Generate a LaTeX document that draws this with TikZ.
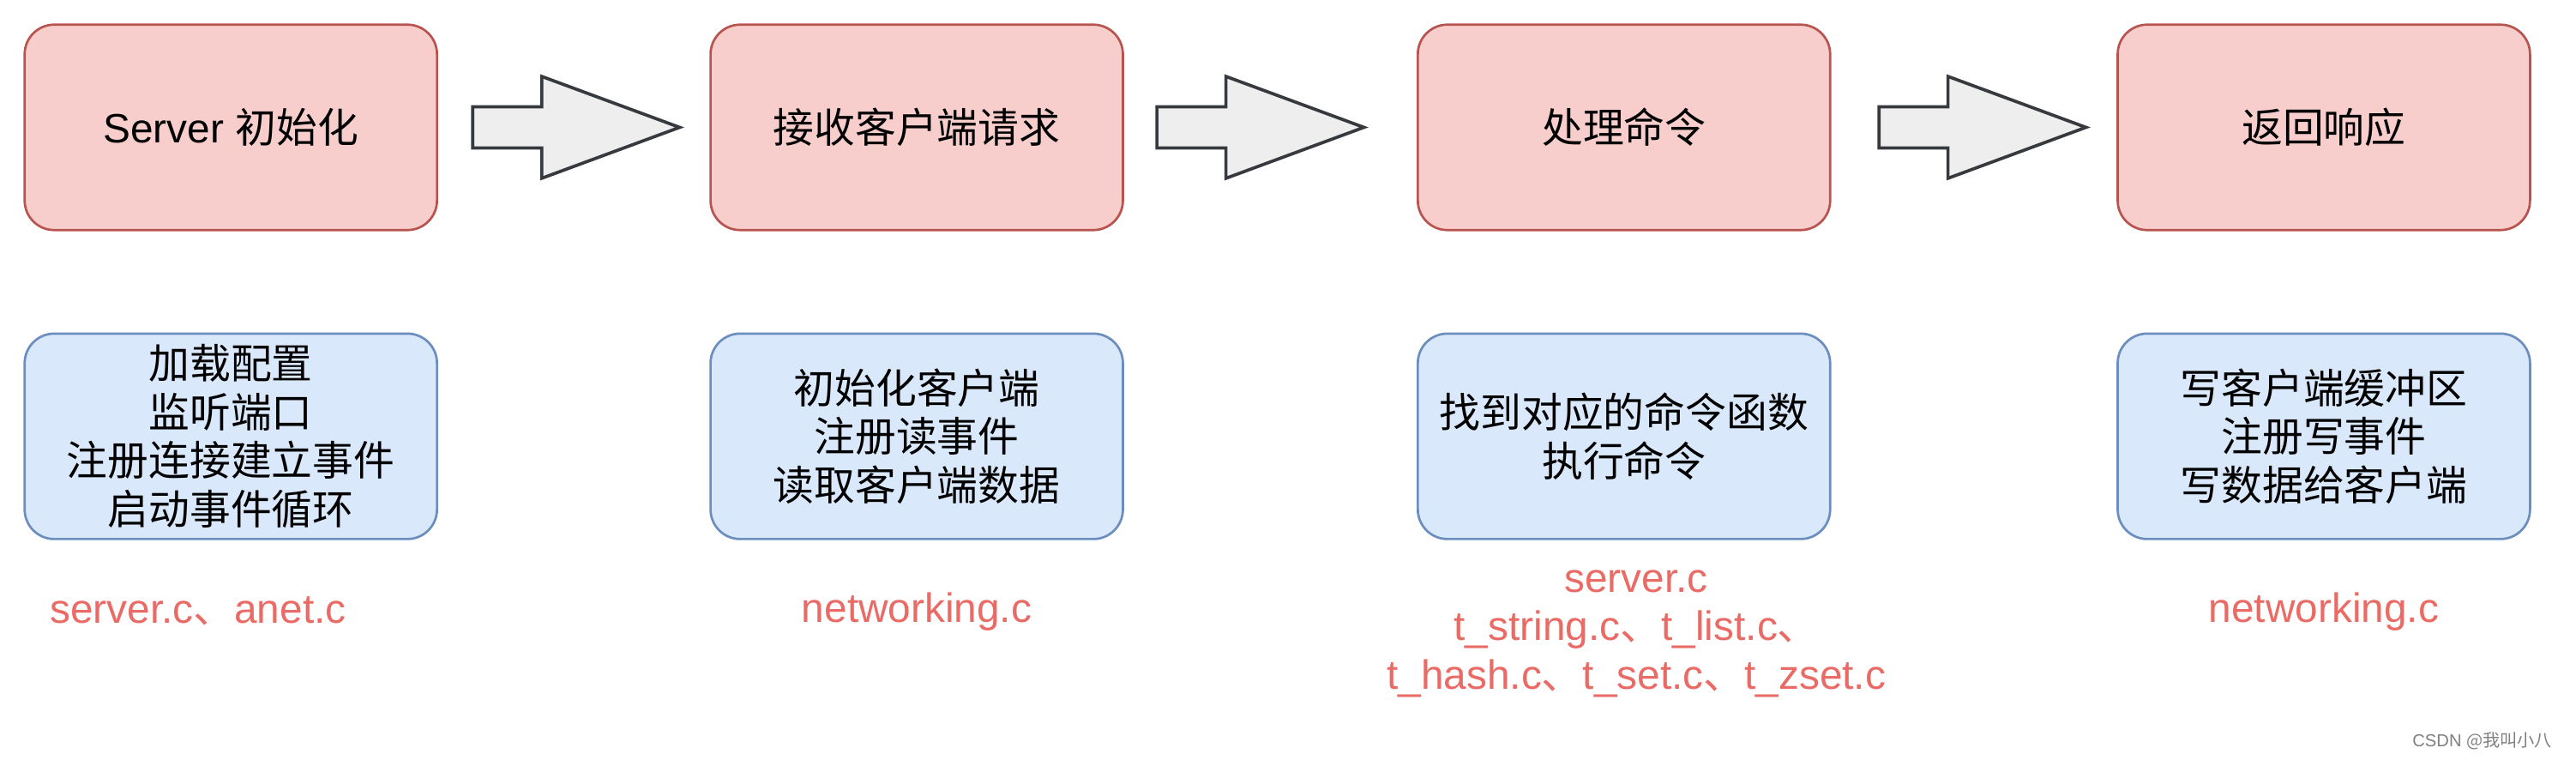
\documentclass[tikz,border=0pt]{standalone}
\usepackage{fontspec}
\setmainfont{Liberation Sans}
\newfontfamily\cjk{Noto Sans CJK SC}
\usetikzlibrary{positioning,calc}
\definecolor{stagefill}{HTML}{F8CECC}
\definecolor{stageline}{HTML}{B85450}
\definecolor{taskfill}{HTML}{DAE8FC}
\definecolor{taskline}{HTML}{6C8EBF}
\definecolor{srcred}{HTML}{EA6B66}
\definecolor{arrowfill}{HTML}{EEEEEE}
\definecolor{arrowline}{HTML}{36393D}

\begin{document}
\begin{tikzpicture}[node distance=3.76cm, line width=0.8pt,
                    every node/.style={font=\fontsize{14.2}{16.8}\selectfont}]
  \tikzstyle{stage} = [rectangle, rounded corners=0.36cm, draw=stageline, fill=stagefill,
                       minimum width=5.02cm, minimum height=2.5cm, inner sep=0pt]
  \tikzstyle{task} = [stage, draw=taskline, fill=taskfill, align=center,
                      font=\fontsize{14.2}{16.8}\selectfont\cjk]
  \tikzstyle{source} = [text=srcred, align=center]
  \tikzstyle{bigarrow} = [draw=arrowline, fill=arrowfill, line width=1.1pt, line join=miter]

  \useasboundingbox (0,0) rectangle (31.36,-9.24);

  % stages
  \node[stage] (init) at (2.81,-1.55) {Server {\cjk 初始化}};
  \node[stage] (recv) [right of=init, node distance=8.35cm] {\cjk 接收客户端请求};
  \node[stage] (exec) [right of=recv, node distance=8.61cm] {\cjk 处理命令};
  \node[stage] (reply) [right of=exec, node distance=8.52cm] {\cjk 返回响应};

  % what each stage does
  \node[task] (initT) [below of=init]  {加载配置\\监听端口\\注册连接建立事件\\启动事件循环};
  \node[task] (recvT) [below of=recv]  {初始化客户端\\注册读事件\\读取客户端数据};
  \node[task] (execT) [below of=exec]  {找到对应的命令函数\\执行命令};
  \node[task] (replyT) [below of=reply] {写客户端缓冲区\\注册写事件\\写数据给客户端};

  % source files
  \node[source] (initS) [below of=initT, node distance=2.13cm, xshift=-0.4cm]
        {server.c{\cjk 、}anet.c};
  \node[source] (recvS) [below of=recvT, node distance=2.13cm] {networking.c};
  \node[source] (execS) [below of=execT, node distance=2.40cm, xshift=0.15cm]
        {server.c\\t\_string.c{\cjk 、}t\_list.c{\cjk 、}\\t\_hash.c{\cjk 、}t\_set.c{\cjk 、}t\_zset.c};
  \node[source] (replyS) [below of=replyT, node distance=2.13cm] {networking.c};

  % block arrows between stages
  \foreach \a/\b/\off in {init/recv/0.42, recv/exec/0.40, exec/reply/0.58}
    \draw[bigarrow] ($(\a.east)+(\off,0.25)$) -- ++(0.84,0) -- ++(0,0.37) -- ++(1.68,-0.62)
          -- ++(-1.68,-0.62) -- ++(0,0.37) -- ++(-0.84,0) -- cycle;

  \node[text=gray, anchor=east, font=\fontsize{6}{7}\selectfont] (mark) at (31.2,-9.02)
        {CSDN {\cjk @我叫小八}};
\end{tikzpicture}
\end{document}
